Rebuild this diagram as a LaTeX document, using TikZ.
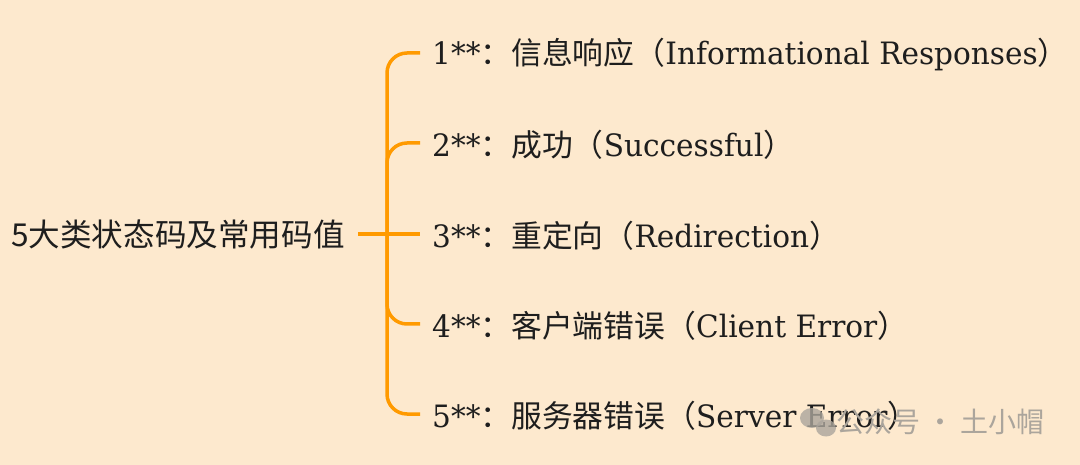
\documentclass[tikz,border=0pt]{standalone}
\usepackage{fontspec}
\setmainfont{DejaVu Serif}
\newfontfamily\cjk{Noto Sans CJK SC}
\newfontfamily\ser[FakeStretch=0.96]{DejaVu Serif}
\definecolor{bg}{HTML}{FDE9CE}
\definecolor{br}{HTML}{FF9A00}
\definecolor{tx}{HTML}{1E1E1E}
\definecolor{wm}{HTML}{ABA59C}
\begin{document}
\begin{tikzpicture}[x=1pt,y=1pt,
  brline/.style={draw=br,line width=3.5pt,rounded corners=20pt,line cap=butt},
  rootlbl/.style={anchor=west,inner sep=0pt,text=tx,font=\cjk\fontsize{31.6}{36}\selectfont},
  childlbl/.style={anchor=west,inner sep=0pt,text=tx,font=\fontsize{30.8}{36}\selectfont},
  wmark/.style={anchor=west,inner sep=0pt,text=wm,font=\cjk\fontsize{28}{34}\selectfont}]
\fill[bg] (0,0) rectangle (1080,-465);
\useasboundingbox (0,0) rectangle (1080,-465);
\node[rootlbl] (root) at (11,-235) {5大类状态码及常用码值};
\coordinate (j) at (387,-234);
\node[childlbl] (c1) at (432,-55) {{\ser 1**}{\cjk ：信息响应（}{\ser Informational Responses}{\cjk ）}};
\node[childlbl] (c2) at (432,-145) {{\ser 2**}{\cjk ：成功（}{\ser Successful}{\cjk ）}};
\node[childlbl] (c3) at (432,-236) {{\ser 3**}{\cjk ：重定向（}{\ser Redirection}{\cjk ）}};
\node[childlbl] (c4) at (432,-326) {{\ser 4**}{\cjk ：客户端错误（}{\ser Client Error}{\cjk ）}};
\node[childlbl] (c5) at (432,-416) {{\ser 5**}{\cjk ：服务器错误（}{\ser Server Error}{\cjk ）}};
\coordinate (s) at (358,-234);
\coordinate (e1) at (420,-53);
\coordinate (e2) at (420,-143);
\coordinate (e3) at (420,-234);
\coordinate (e4) at (420,-324);
\coordinate (e5) at (420,-414);
\draw[brline] (s) -- (j);
\draw[brline] (j) |- (e1);
\draw[brline] (j) |- (e2);
\draw[brline] (j) -- (e3);
\draw[brline] (j) |- (e4);
\draw[brline] (j) |- (e5);
\node[wmark] (wm) at (836,-422) {公众号 · 土小帽};
\fill[wm,opacity=0.8] (812,-418) ellipse (12 and 10);
\fill[wm,opacity=0.8] (826,-428) ellipse (10 and 8.5);
\end{tikzpicture}
\end{document}
